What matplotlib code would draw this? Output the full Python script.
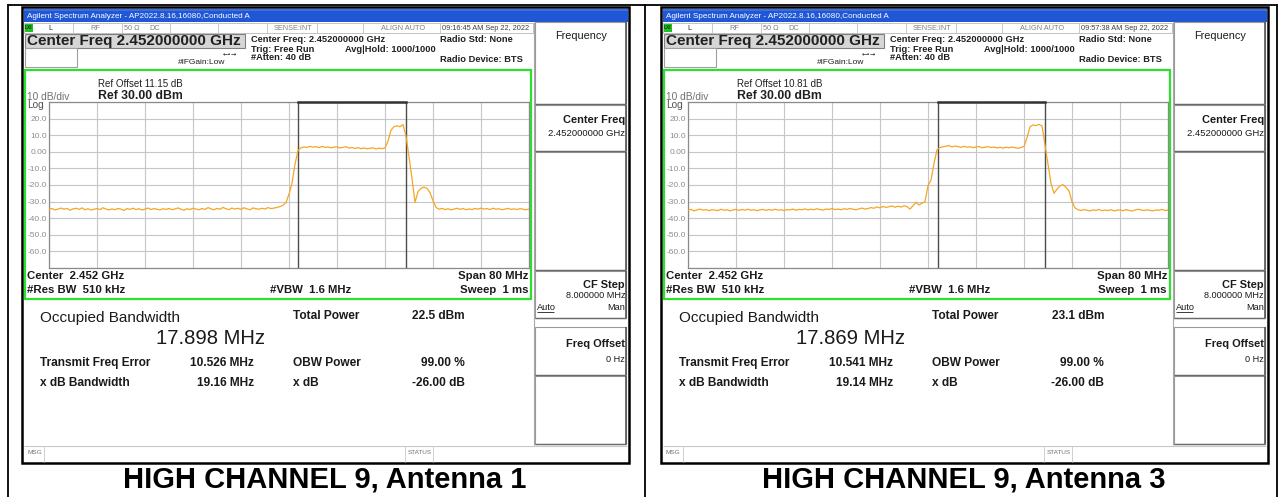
import numpy as np
import matplotlib
matplotlib.use('Agg')
import matplotlib.pyplot as plt
from matplotlib.patches import Rectangle

plt.rcParams['font.family'] = ['Liberation Sans', 'DejaVu Sans']

W, H = 1282, 497

# ---------------- data ----------------
SPAN_START_MHZ = 2412.0
SPAN_STOP_MHZ = 2492.0
CENTER_MHZ = 2452.0
Y_TICKS = [30, 20, 10, 0, -10, -20, -30, -40, -50, -60, -70]
Y_TICK_LABELS = ['', '20.0', '10.0', '0.00', '-10.0', '-20.0', '-30.0',
                 '-40.0', '-50.0', '-60.0', '']
X_TICKS_MHZ = [2412, 2420, 2428, 2436, 2444, 2452, 2460, 2468, 2476, 2484, 2492]

CAPTIONS = ['HIGH CHANNEL 9, Antenna 1', 'HIGH CHANNEL 9, Antenna 3']
REF_OFFSETS = ['11.15', '10.81']
TIMESTAMPS = ['09:16:45 AM Sep 22, 2022', '09:57:38 AM Sep 22, 2022']
OBW_MHZ = [17.898, 17.869]
FREQ_ERR_MHZ = [10.526, 10.541]
TOTAL_POWER_DBM = [22.5, 23.1]
XDB_BW_MHZ = [19.16, 19.14]
OBW_POWER_PCT = [99.00, 99.00]
XDB_DB = [-26.00, -26.00]

ANT1_DBM = [
    -34.8, -34.2, -35.0, -34.5, -33.9, -34.6, -34.1, -35.2, -34.4, -34.0,
    -34.7, -33.8, -34.9, -34.3, -35.1, -34.6, -34.2, -34.8, -33.7, -34.5,
    -35.0, -34.4, -34.9, -34.1, -34.6, -35.3, -34.2, -34.7, -34.0, -34.8,
    -34.3, -35.1, -34.5, -33.9, -34.8, -34.2, -34.6, -35.0, -34.3, -34.7,
    -34.1, -34.9, -34.4, -33.8, -34.6, -35.2, -34.3, -34.8, -34.0, -34.5,
    -34.9, -34.2, -34.7, -33.6, -34.4, -34.9, -34.1, -34.6, -33.5, -34.3,
    -34.8, -33.9, -34.5, -34.0, -34.7, -33.7, -34.4, -34.9, -33.8, -34.3,
    -34.6, -34.0, -34.5, -33.6, -34.2, -33.9, -33.5,
    -33.0, -32.2, -30.5, -25.5, -19.0, -7.5, 0.8, 2.4,
    2.9, 2.6, 3.3, 2.8, 3.1, 2.5, 3.2, 2.7, 2.9, 2.4,
    2.8, 3.0, 2.3, 2.7, 3.1, 2.2, 2.6, 2.0, 2.5, 1.9,
    2.3, 1.8, 2.1, 2.4, 1.7, 2.2, 1.9, 2.3,
    6.5, 13.0, 15.2, 15.6, 15.1, 16.4, 9.5, -3.0, -16.0, -30.5,
    -24.0, -22.0, -21.3, -22.0, -24.5, -29.5, -33.5,
    -34.6, -34.1, -34.8, -34.3, -35.0, -34.5, -34.0, -34.7, -34.2, -34.9,
    -34.4, -34.8, -34.1, -34.6, -33.9, -34.5, -34.2, -34.8, -34.0, -34.6,
    -34.3, -34.9, -34.5, -34.1, -34.7, -34.4, -34.8, -34.2, -34.6, -34.9, -34.5,
]

ANT3_DBM = [
    -35.3, -34.7, -35.6, -35.0, -34.5, -35.2, -34.8, -35.5, -34.9, -35.1,
    -35.4, -34.6, -35.2, -34.9, -35.6, -35.0, -34.7, -35.3, -34.8, -35.1,
    -34.6, -35.2, -34.9, -35.5, -35.0, -34.7, -35.3, -34.8, -35.2, -34.6,
    -35.1, -34.9, -35.4, -34.8, -35.0, -34.5, -35.2, -34.7, -34.9, -34.4,
    -35.0, -34.6, -34.9, -34.3, -34.8, -35.1, -34.5, -34.7, -34.2, -34.8,
    -34.5, -34.9, -34.3, -34.7, -34.1, -34.6, -34.9, -34.4, -33.9, -34.5,
    -34.2, -33.6, -34.0, -33.2, -33.8, -32.9, -33.5, -33.1, -32.6, -33.4,
    -32.8, -33.3, -32.5, -33.0, -34.5, -32.5, -30.5,
    -32.0, -31.0, -30.0, -20.5, -17.0, -7.0, 1.2, 2.6,
    3.0, 3.4, 3.8, 2.9, 3.5, 3.1, 2.7, 3.3, 2.8, 3.0,
    2.5, 2.9, 3.2, 2.4, 2.8, 3.1, 2.6, 2.9, 2.3, 2.7,
    2.2, 2.8, 2.4, 2.9, 2.5, 2.1, 2.6, 3.2,
    8.5, 15.0, 16.2, 15.8, 16.5, 15.6, 4.0, -8.0, -19.0, -25.0,
    -22.5, -20.5, -19.8, -21.5, -23.5, -30.0, -33.8,
    -34.9, -35.4, -34.8, -35.2, -35.6, -35.0, -35.3, -34.7, -35.5, -35.1,
    -35.4, -34.9, -35.6, -35.2, -35.0, -35.5, -34.8, -35.3, -35.7, -35.1,
    -34.6, -35.0, -35.4, -34.9, -35.3, -35.6, -35.0, -35.2, -34.7, -35.4, -35.1,
]
TRACES = [ANT1_DBM, ANT3_DBM]

# ---------------- figure ----------------
fig = plt.figure(figsize=(W / 100, H / 100), dpi=100)
fig.patch.set_facecolor('white')
P = fig.add_axes([0, 0, 1, 1])
P.set_xlim(0, W)
P.set_ylim(H, 0)
P.axis('off')


def T(x, y, s, size, weight='normal', color='#1a1a1a', ha='left', va='center', **kw):
    P.text(x, y, s, fontsize=size, fontweight=weight, color=color, ha=ha, va=va, **kw)


def R(x0, y0, x1, y1, fc='none', ec='none', lw=1.0, z=1):
    P.add_patch(Rectangle((x0, y0), x1 - x0, y1 - y0, facecolor=fc,
                          edgecolor=ec, lw=lw, zorder=z))


def L(xs, ys, color='#000000', lw=1.0, z=2):
    P.plot(xs, ys, color=color, lw=lw, zorder=z, solid_capstyle='butt')


# table lines
L([8, 8], [4, H], '#000000', 1.3)
L([645, 645], [4, H], '#000000', 1.3)
L([1277, 1277], [4, H], '#000000', 1.3)
L([8, 1277], [4.5, 4.5], '#000000', 1.3)

BOLD_SMALL = 6.7
MEAS = 8.6


def screen(k, ox):
    # outer black frame
    R(22 + ox, 7, 629 + ox, 463, fc='white', ec='#000000', lw=1.8, z=1)
    # title bar
    R(23.5 + ox, 8.5, 627.5 + ox, 22, fc='#1f57d6', ec='none', z=2)
    R(23.5 + ox, 8.5, 627.5 + ox, 11, fc='#3a70e4', ec='none', z=2)
    T(27 + ox, 16, 'Agilent Spectrum Analyzer - AP2022.8.16,16080,Conducted A',
      5.9, color='white')
    # status row
    R(24 + ox, 23, 533 + ox, 32.5, fc='white', ec='#b8b8b8', lw=0.6, z=2)
    for xd in [73, 122, 170, 218, 267, 317, 363, 440]:
        L([xd + ox, xd + ox], [23, 32.5], '#c0c0c0', 0.6, z=3)
    R(24.5 + ox, 23.5, 33 + ox, 31.5, fc='#20c020', ec='none', z=3)
    T(28.7 + ox, 27.6, 'LXI', 3.4, 'bold', color='#103010', ha='center')
    T(50 + ox, 28, 'L', 5.3, color='#303030', ha='center')
    T(95 + ox, 28, 'RF', 5.3, color='#808080', ha='center')
    T(132 + ox, 28, '50 Ω', 5.3, color='#808080', ha='center')
    T(155 + ox, 28, 'DC', 5.3, color='#808080', ha='center')
    T(293 + ox, 28, 'SENSE:INT', 5.3, color='#808080', ha='center')
    T(403 + ox, 28, 'ALIGN AUTO', 5.3, color='#808080', ha='center')
    T(486 + ox, 28, TIMESTAMPS[k], 5.3, color='#404040', ha='center')
    # center freq box
    R(25 + ox, 34, 245 + ox, 47.5, fc='#d6d6d6', ec='#808080', lw=0.8, z=2)
    T(27 + ox, 41, 'Center Freq 2.452000000 GHz', 11, 'bold', color='#202020')
    R(25 + ox, 48, 77 + ox, 67, fc='white', ec='#a0a0a0', lw=0.8, z=2)
    T(178 + ox, 62, '#IFGain:Low', 6, color='#202020')
    T(230 + ox, 54, '←•→', 4.5, color='#202020', ha='center',
      family=['DejaVu Sans'])
    T(251 + ox, 40, 'Center Freq: 2.452000000 GHz', BOLD_SMALL, 'bold', color='#202020')
    T(251 + ox, 49, 'Trig: Free Run', BOLD_SMALL, 'bold', color='#202020')
    T(251 + ox, 58, '#Atten: 40 dB', BOLD_SMALL, 'bold', color='#202020')
    T(345 + ox, 49, 'Avg|Hold: 1000/1000', BOLD_SMALL, 'bold', color='#202020')
    T(440 + ox, 40, 'Radio Std: None', BOLD_SMALL, 'bold', color='#202020')
    T(440 + ox, 60, 'Radio Device: BTS', BOLD_SMALL, 'bold', color='#202020')
    # green frame
    R(25 + ox, 69.5, 531 + ox, 299, fc='none', ec='#2ee02e', lw=1.6, z=4)
    T(98 + ox, 84, 'Ref Offset %s dB' % REF_OFFSETS[k], 7, color='#202020')
    T(98 + ox, 96, 'Ref 30.00 dBm', 8.8, 'bold', color='#202020')
    T(27 + ox, 97, '10 dB/div', 7.3, color='#707070')
    T(27 + ox, 105, 'Log', 7.3, color='#505050')
    T(27 + ox, 276, 'Center  2.452 GHz', 8.2, 'bold', color='#1a1a1a')
    T(27 + ox, 290, '#Res BW  510 kHz', 8.2, 'bold', color='#1a1a1a')
    T(270 + ox, 290, '#VBW  1.6 MHz', 8.2, 'bold', color='#1a1a1a')
    T(528 + ox, 276, 'Span 80 MHz', 8.2, 'bold', color='#1a1a1a', ha='right')
    T(528 + ox, 290, 'Sweep  1 ms', 8.2, 'bold', color='#1a1a1a', ha='right')
    # measurement results
    T(40 + ox, 318, 'Occupied Bandwidth', 11, color='#1a1a1a')
    T(211 + ox, 338, '%.3f MHz' % OBW_MHZ[k], 14.6, color='#1a1a1a', ha='center')
    T(293 + ox, 316, 'Total Power', MEAS, 'bold', color='#1a1a1a')
    T(465 + ox, 316, '%.1f dBm' % TOTAL_POWER_DBM[k], MEAS, 'bold', color='#1a1a1a', ha='right')
    T(40 + ox, 363, 'Transmit Freq Error', MEAS, 'bold', color='#1a1a1a')
    T(254 + ox, 363, '%.3f MHz' % FREQ_ERR_MHZ[k], MEAS, 'bold', color='#1a1a1a', ha='right')
    T(293 + ox, 363, 'OBW Power', MEAS, 'bold', color='#1a1a1a')
    T(465 + ox, 363, '%.2f %%' % OBW_POWER_PCT[k], MEAS, 'bold', color='#1a1a1a', ha='right')
    T(40 + ox, 383, 'x dB Bandwidth', MEAS, 'bold', color='#1a1a1a')
    T(254 + ox, 383, '%.2f MHz' % XDB_BW_MHZ[k], MEAS, 'bold', color='#1a1a1a', ha='right')
    T(293 + ox, 383, 'x dB', MEAS, 'bold', color='#1a1a1a')
    T(465 + ox, 383, '%.2f dB' % XDB_DB[k], MEAS, 'bold', color='#1a1a1a', ha='right')
    # bottom message bar
    L([24 + ox, 627 + ox], [445.5, 445.5], '#c8c8c8', 0.8, z=3)
    for xd in [44, 405, 433]:
        L([xd + ox, xd + ox], [446, 461.5], '#d0d0d0', 0.7, z=3)
    T(27 + ox, 453, 'MSG', 4.6, color='#707070')
    T(408 + ox, 453, 'STATUS', 4.6, color='#707070')
    # softkey panel
    L([534 + ox, 534 + ox], [22, 445], '#a8a8a8', 0.8, z=3)
    boxes = [(22, 104), (105, 151), (152, 270), (271, 318), (327, 375), (376, 444)]
    for (y0, y1) in boxes:
        R(535 + ox, y0, 626 + ox, y1, fc='white', ec='#9a9a9a', lw=0.8, z=3)
        L([626 + ox, 626 + ox], [y0, y1], '#555555', 1.2, z=4)
        L([535 + ox, 626 + ox], [y1, y1], '#6a6a6a', 1.0, z=4)
    T(581 + ox, 36, 'Frequency', 7.8, color='#1a1a1a', ha='center')
    T(625 + ox, 120, 'Center Freq', 7.9, 'bold', color='#1a1a1a', ha='right')
    T(625 + ox, 134, '2.452000000 GHz', 6.8, color='#1a1a1a', ha='right')
    T(625 + ox, 285, 'CF Step', 7.9, 'bold', color='#1a1a1a', ha='right')
    T(625 + ox, 296, '8.000000 MHz', 6.6, color='#1a1a1a', ha='right')
    T(537 + ox, 307, 'Auto', 6.6, color='#1a1a1a')
    L([537 + ox, 554 + ox], [311.5, 311.5], '#1a1a1a', 0.6, z=5)
    T(625 + ox, 307, 'Man', 6.6, color='#1a1a1a', ha='right')
    T(625 + ox, 344, 'Freq Offset', 7.9, 'bold', color='#1a1a1a', ha='right')
    T(625 + ox, 359, '0 Hz', 6.6, color='#1a1a1a', ha='right')
    # caption
    T(325 + ox, 480, CAPTIONS[k], 21, 'bold', color='#000000', ha='center')

    # spectrum axes
    x0, y0, x1, y1 = 49 + ox, 102, 529 + ox, 268
    ax = fig.add_axes([x0 / W, 1 - y1 / H, (x1 - x0) / W, (y1 - y0) / H])
    ax.set_facecolor('white')
    trace = TRACES[k]
    freqs = np.linspace(SPAN_START_MHZ, SPAN_STOP_MHZ, len(trace))
    ax.set_xlim(SPAN_START_MHZ, SPAN_STOP_MHZ)
    ax.set_ylim(min(Y_TICKS), max(Y_TICKS))
    ax.set_xticks(X_TICKS_MHZ)
    ax.set_xticklabels([])
    ax.set_yticks(Y_TICKS)
    ax.set_yticklabels(Y_TICK_LABELS)
    ax.tick_params(length=0, labelsize=6, labelcolor='#8c8c8c', pad=1.5)
    ax.grid(True, color='#c6c6c6', lw=0.8)
    ax.set_axisbelow(True)
    for sp in ax.spines.values():
        sp.set_color('#8a8a8a')
        sp.set_linewidth(0.9)
    sig_center = CENTER_MHZ + FREQ_ERR_MHZ[k]
    left = sig_center - OBW_MHZ[k] / 2
    right = sig_center + OBW_MHZ[k] / 2
    ax.axvline(left, color='#4d4d4d', lw=1.0, zorder=2)
    ax.axvline(right, color='#4d4d4d', lw=1.0, zorder=2)
    ax.plot([left, right], [max(Y_TICKS)] * 2, color='#333333', lw=1.8,
            clip_on=False, zorder=5)
    ax.plot(freqs, trace, color='#f5a623', lw=0.9, zorder=4)


screen(0, 0)
screen(1, 639)

fig.savefig('out.png', dpi=100, facecolor='white')
